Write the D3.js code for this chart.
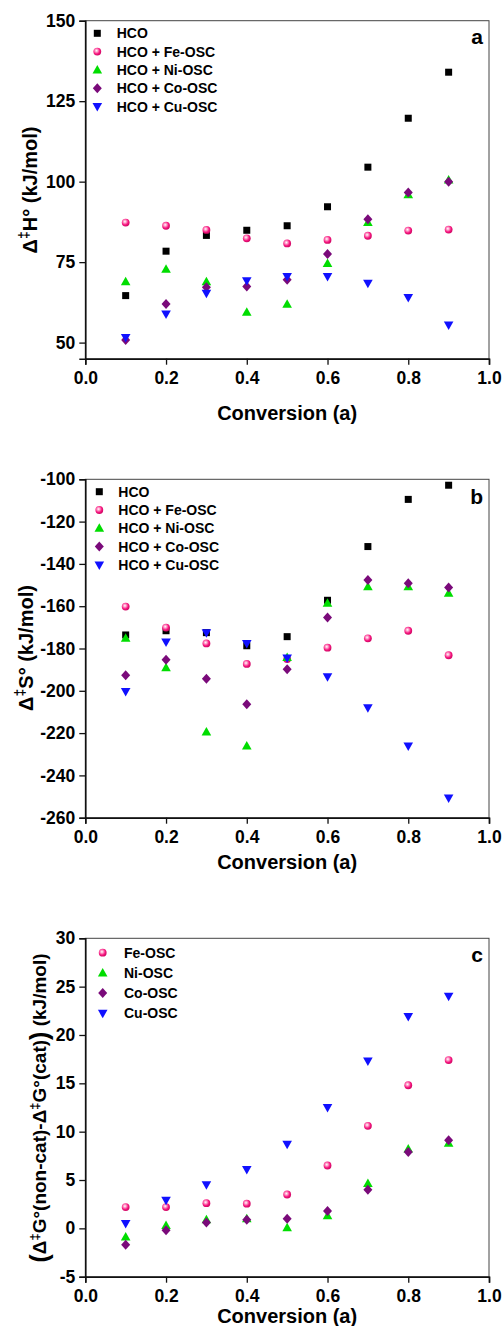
<!DOCTYPE html>
<html>
<head>
<meta charset="utf-8">
<script src="https://cdn.jsdelivr.net/npm/d3@7"></script>
<style>
  body { margin:0; background:#fff; }
  svg text { font-family: "Liberation Sans", Arial, sans-serif; font-weight: bold; fill:#000; }
</style>
</head>
<body>
<svg id="chart" width="503" height="1326"></svg>
<script>
// conversion values
var conversion = [0.1,0.2,0.3,0.4,0.5,0.6,0.7,0.8,0.9];

// panel a: activation enthalpy (kJ/mol)
var dH_HCO = [64.6,78.4,83.3,84.9,86.3,92.2,104.5,119.7,134.0];
var dH_Fe  = [87.3,86.3,85.0,82.4,80.8,81.9,83.2,84.8,85.1];
var dH_Ni  = [68.9,72.8,68.9,59.4,61.9,74.6,87.3,95.9,100.5];
var dH_Co  = [50.8,62.0,67.2,67.4,69.5,77.5,88.3,96.6,100.0];
var dH_Cu  = [51.6,58.9,65.3,69.2,70.5,70.5,68.4,64.0,55.5];

// panel b: activation entropy
var dS_HCO = [-173.6,-171.6,-172.5,-178.7,-174.4,-157.2,-131.8,-109.5,-102.8];
var dS_Fe  = [-160.2,-170.1,-177.6,-187.3,-185.0,-179.6,-175.2,-171.6,-183.2];
var dS_Ni  = [-175.2,-189.1,-219.5,-226.1,-184.2,-158.6,-150.8,-150.8,-153.9];
var dS_Co  = [-192.7,-185.3,-194.3,-206.4,-189.8,-165.3,-147.6,-149.2,-151.1];
var dS_Cu  = [-200.3,-176.9,-172.5,-177.6,-184.5,-193.3,-208.0,-226.1,-250.7];

// panel c: dG(non-cat) - dG(cat)
var dG_Fe = [2.2,2.2,2.6,2.55,3.5,6.5,10.6,14.8,17.4];
var dG_Ni = [-0.9,0.3,0.9,1.0,0.07,1.3,4.65,8.2,8.8];
var dG_Co = [-1.7,-0.2,0.6,0.9,1.0,1.8,4.0,7.9,9.1];
var dG_Cu = [0.5,2.9,4.5,6.1,8.7,12.5,17.3,21.9,24.0];

var xTicks = [0,0.2,0.4,0.6,0.8,1.0];

/* estilos de cada serie */
var estilo = {
  HCO: {sym:'square', color:'#000000'},
  Fe:  {sym:'ball',   color:'#f7157f'},
  Ni:  {sym:'up',     color:'#00dd00'},
  Co:  {sym:'diamond',color:'#7a0a7a'},
  Cu:  {sym:'down',   color:'#1010ff'}
};

var svg = d3.select('#chart');
var defs = svg.append('defs');
var grad = defs.append('radialGradient').attr('id','ball').attr('cx','40%').attr('cy','38%').attr('r','60%');
grad.append('stop').attr('offset','0%').attr('stop-color','#ffffff');
grad.append('stop').attr('offset','30%').attr('stop-color','#ff9cc8');
grad.append('stop').attr('offset','70%').attr('stop-color','#f7157f');
grad.append('stop').attr('offset','100%').attr('stop-color','#d10a66');

function marker(g, tipo, cx, cy){
  var st = estilo[tipo];
  if(st.sym==='square'){
    g.append('rect').attr('x',cx-3.5).attr('y',cy-3.5).attr('width',7).attr('height',7).attr('fill',st.color);
  } else if(st.sym==='ball'){
    g.append('circle').attr('cx',cx).attr('cy',cy).attr('r',3.9).attr('fill','url(#ball)');
  } else if(st.sym==='up'){
    g.append('path').attr('d','M'+cx+','+(cy-5)+'L'+(cx+4.8)+','+(cy+3.5)+'L'+(cx-4.8)+','+(cy+3.5)+'Z').attr('fill',st.color);
  } else if(st.sym==='down'){
    g.append('path').attr('d','M'+cx+','+(cy+5)+'L'+(cx+4.8)+','+(cy-3.5)+'L'+(cx-4.8)+','+(cy-3.5)+'Z').attr('fill',st.color);
  } else {
    g.append('path').attr('d','M'+cx+','+(cy-5)+'L'+(cx+4.5)+','+cy+'L'+cx+','+(cy+5)+'L'+(cx-4.5)+','+cy+'Z').attr('fill',st.color);
  }
}

/*
 * dibuja un panel completo: marco, ejes, puntos, leyenda
 */
function panel(cfg){
  var g = svg.append('g');
  var x = d3.scaleLinear().domain([0,1]).range([85.3,489]);
  var y = d3.scaleLinear().domain(cfg.domain).range([cfg.bottom,cfg.top]);

  // marco
  g.append('rect').attr('x',85.3).attr('y',cfg.top).attr('width',489-85.3).attr('height',cfg.bottom-cfg.top)
    .attr('fill','none').attr('stroke','#444').attr('stroke-width',1);

  // ticks menores y mayores
  var xMinor = d3.range(1,10,2).map(d=>d/10);
  var gx = g.append('g').attr('transform','translate(0,'+cfg.bottom+')');
  gx.call(d3.axisBottom(x).tickValues(xMinor).tickSize(4).tickFormat(''));
  gx.call(d3.axisBottom(x).tickValues(xTicks).tickSize(6).tickPadding(7).tickFormat(d3.format('.1f')));
  var gy = g.append('g').attr('transform','translate(85.3,0)');
  gy.call(d3.axisLeft(y).tickValues(cfg.yMinor).tickSize(4).tickFormat(''));
  gy.call(d3.axisLeft(y).tickValues(cfg.yTicks).tickSize(6).tickPadding(4).tickFormat(d=>String(d)));
  g.selectAll('.domain').attr('stroke','#111').attr('stroke-width',1.6);
  g.selectAll('.tick line').attr('stroke','#111').attr('stroke-width',1.3);
  g.selectAll('.tick text').style('font-size','17.5px').style('font-family','"Liberation Sans", Arial, sans-serif').style('font-weight','bold');

  // puntos
  cfg.series.forEach(s=>{
    var gs = g.append('g');
    s.values.forEach((v,i)=>marker(gs, s.key, x(conversion[i]), y(v)));
  });

  // leyenda
  cfg.series.forEach((s,i)=>{
    var yy = cfg.leg.y + i*cfg.leg.dy;
    marker(g, s.key, cfg.leg.mx, yy);
    g.append('text').attr('x',cfg.leg.tx).attr('y',yy+5).style('font-size','14px').text(s.name);
  });

  // letra del panel
  g.append('text').attr('x',483).attr('y',cfg.letterY).attr('text-anchor','end').style('font-size','21px').text(cfg.letter);

  // titulo eje x
  g.append('text').attr('x',x(0.5)).attr('y',cfg.xTitleY).attr('text-anchor','middle').style('font-size','20px').text('Conversion (a)');
  return g;
}

var ga = panel({
  domain:[45,150], top:20.7, bottom:358.7,
  yTicks:[50,75,100,125,150], yMinor:[62.5,87.5,112.5,137.5],
  series:[
    {key:'HCO', name:'HCO', values:dH_HCO},
    {key:'Fe', name:'HCO + Fe-OSC', values:dH_Fe},
    {key:'Ni', name:'HCO + Ni-OSC', values:dH_Ni},
    {key:'Co', name:'HCO + Co-OSC', values:dH_Co},
    {key:'Cu', name:'HCO + Cu-OSC', values:dH_Cu}
  ],
  leg:{mx:97.3, tx:116.7, y:33.3, dy:18.3},
  letter:'a', letterY:44, xTitleY:420
});
var ta = ga.append('text').attr('transform','translate(37,190) rotate(-90)').attr('text-anchor','middle').style('font-size','20px');
ta.append('tspan').text('Δ');
ta.append('tspan').attr('dy',-8).style('font-size','14px').text('‡');
ta.append('tspan').attr('dy',8).text('H° (kJ/mol)');

var gb = panel({
  domain:[-260,-100], top:479.3, bottom:817.7,
  yTicks:d3.range(-260,-99,20), yMinor:d3.range(-250,-100,20),
  series:[
    {key:'HCO', name:'HCO', values:dS_HCO},
    {key:'Fe', name:'HCO + Fe-OSC', values:dS_Fe},
    {key:'Ni', name:'HCO + Ni-OSC', values:dS_Ni},
    {key:'Co', name:'HCO + Co-OSC', values:dS_Co},
    {key:'Cu', name:'HCO + Cu-OSC', values:dS_Cu}
  ],
  leg:{mx:99.3, tx:118.3, y:491.7, dy:18.3},
  letter:'b', letterY:504, xTitleY:869
});
var tb = gb.append('text').attr('transform','translate(33,648) rotate(-90)').attr('text-anchor','middle').style('font-size','20px');
tb.append('tspan').text('Δ');
tb.append('tspan').attr('dy',-8).style('font-size','14px').text('‡');
tb.append('tspan').attr('dy',8).text('S° (kJ/mol)');

var gc = panel({
  domain:[-5,30], top:938.3, bottom:1276.7,
  yTicks:[-5,0,5,10,15,20,25,30], yMinor:[-2.5,2.5,7.5,12.5,17.5,22.5,27.5],
  series:[
    {key:'Fe', name:'Fe-OSC', values:dG_Fe},
    {key:'Ni', name:'Ni-OSC', values:dG_Ni},
    {key:'Co', name:'Co-OSC', values:dG_Co},
    {key:'Cu', name:'Cu-OSC', values:dG_Cu}
  ],
  leg:{mx:102.7, tx:124, y:952.7, dy:20.2},
  letter:'c', letterY:962, xTitleY:1323
});
var tc = gc.append('text').attr('transform','translate(46,1108) rotate(-90)').attr('text-anchor','middle').style('font-size','19px');
tc.append('tspan').style('font-size','25px').attr('dy',2).text('(');
tc.append('tspan').attr('dy',-2).text('Δ');
tc.append('tspan').attr('dy',-7).style('font-size','13px').text('‡');
tc.append('tspan').attr('dy',7).text('G°(non-cat)-Δ');
tc.append('tspan').attr('dy',-7).style('font-size','13px').text('‡');
tc.append('tspan').attr('dy',7).text('G°(cat)');
tc.append('tspan').style('font-size','25px').attr('dy',2).text(')');
tc.append('tspan').attr('dy',-2).text(' (kJ/mol)');
</script>
</body>
</html>
